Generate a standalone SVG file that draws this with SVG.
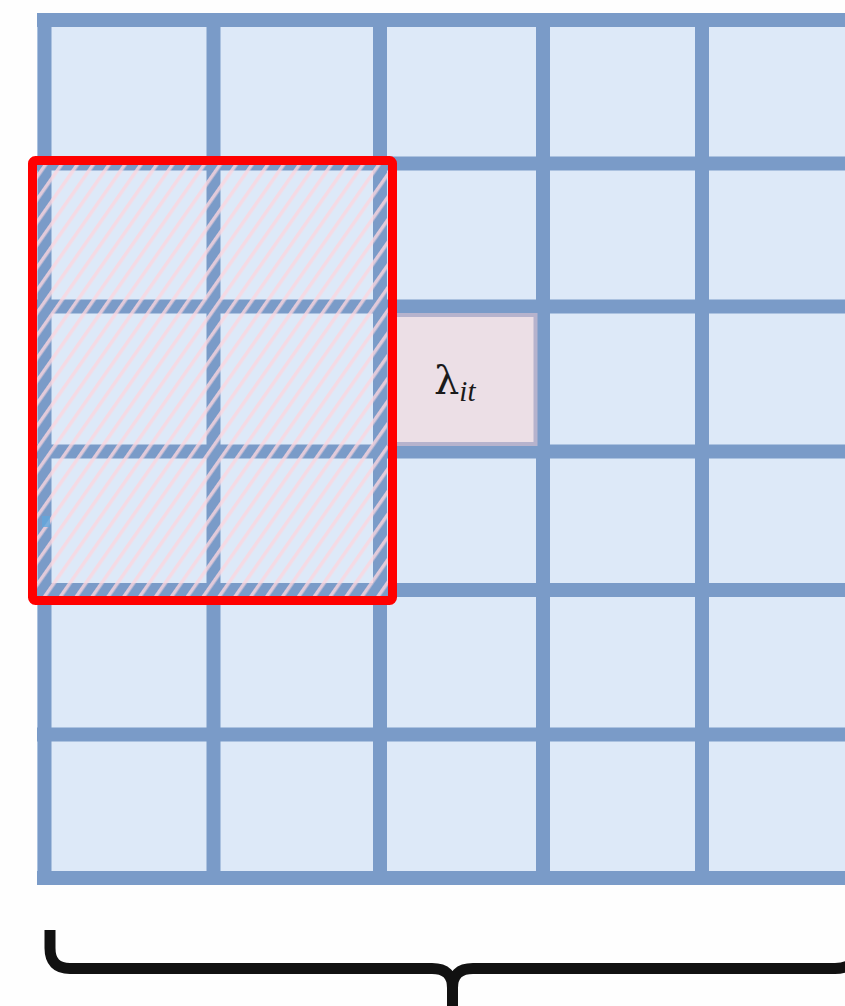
<svg xmlns="http://www.w3.org/2000/svg" width="845" height="1006" viewBox="0 0 845 1006">
<style>
.gl{stroke:#7a9bc8;stroke-width:14;fill:none}
.lbl{font-family:"DejaVu Serif","Liberation Serif",serif;fill:#1a1a1a}
.sub{font-family:"Liberation Serif",serif;font-style:italic;fill:#1a1a1a}
</style>
<defs>
<pattern id="hatch" width="13" height="13" patternUnits="userSpaceOnUse" patternTransform="rotate(35)">
<rect x="0" y="0" width="3.5" height="13" fill="#fbd6df" fill-opacity="0.8"/>
</pattern>
</defs>
<rect width="845" height="1006" fill="#fefefe"/>
<g id="grid">
<rect x="37" y="13" width="820" height="872" fill="#dde9f8"/>
<path class="gl" d="M44.5 13V885M213.5 13V885M380 13V885M543 13V885M702 13V885"/>
<path class="gl" d="M37 20H845M37 163.5H845M37 306.5H845M37 451.5H845M37 590H845M37 734.5H845M37 878H845"/>
</g>
<g id="window-hatch">
<rect x="37" y="165" width="351" height="432" fill="url(#hatch)"/>
<rect x="42" y="516" width="8" height="11" fill="#62a6dc" opacity="0.8"/>
</g>
<g id="target-cell">
<rect x="389" y="315" width="146.5" height="129" fill="#ecdfe6" stroke="#b6b3cd" stroke-width="4"/>
<text class="lbl" x="434" y="394" font-size="40">λ<tspan class="sub" font-size="29" dy="7">it</tspan></text>
</g>
<g id="window">
<rect x="32.5" y="160.5" width="360" height="440" rx="3" fill="none" stroke="#ff0000" stroke-width="9"/>
</g>
<g id="brace">
<path d="M50 930V948Q50 968.5 70 968.5H432Q452.5 968.5 452.5 988V1006M452.5 988Q452.5 968.5 473 968.5H835Q857 968.5 857 948V930" fill="none" stroke="#111" stroke-width="11"/>
</g>
</svg>
